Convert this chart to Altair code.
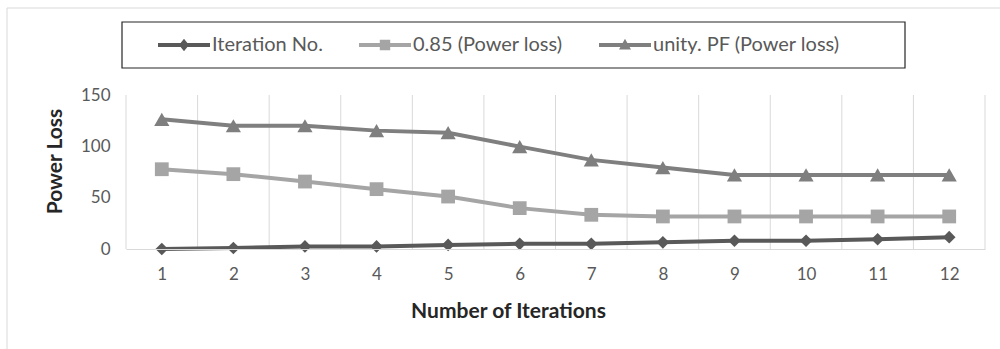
import altair as alt
import pandas as pd

iterations = list(range(1, 13))
iteration_no = [0, 1, 2.5, 2.5, 4, 5, 5, 6.5, 8, 8, 9.5, 11.5]
loss_085 = [77.7, 72.9, 65.7, 58.3, 51.1, 39.8, 33.3, 31.7, 31.7, 31.7, 31.7, 31.7]
loss_unity = [126.3, 120.1, 120.0, 115.3, 113.3, 99.7, 86.8, 79.3, 72.2, 72.2, 72.2, 72.2]

series_names = ["Iteration No.", "0.85 (Power loss)", "unity. PF (Power loss)"]
series_values = [iteration_no, loss_085, loss_unity]
series_colors = ["#595959", "#A5A5A5", "#7F7F7F"]
marker_shapes = ["diamond", "square", "triangle-up"]
marker_sizes = [160, 190, 230]
legend_shapes = [
    "M-1,-0.08H1V0.08H-1Z M0,-0.24L0.19,0L0,0.24L-0.19,0Z",
    "M-1,-0.08H1V0.08H-1Z M-0.2,-0.2H0.2V0.2H-0.2Z",
    "M-1,-0.08H1V0.08H-1Z M0,-0.24L0.23,0.17H-0.23Z",
]
grid_bounds = [i + 0.5 for i in range(0, 13)]

rows = []
for name, vals in zip(series_names, series_values):
    for it, v in zip(iterations, vals):
        rows.append({"iter": it, "value": v, "series": name})
df = pd.DataFrame(rows)
grid_df = pd.DataFrame({"b": grid_bounds})

FONT = "Lato"

xscale = alt.Scale(domain=[0.5, 12.5], nice=False, zero=False)
yscale = alt.Scale(domain=[0, 150], nice=False)
cscale = alt.Scale(domain=series_names, range=series_colors)

x_enc = alt.X(
    "iter:Q",
    scale=xscale,
    axis=alt.Axis(
        values=iterations, format="d", grid=False, ticks=False, domain=True,
        domainColor="#d9d9d9", domainWidth=1, zindex=1,
        labelFont=FONT, labelFontSize=17, labelColor="#595959", labelPadding=17,
        title="Number of Iterations", titleFont=FONT, titleFontSize=21,
        titleFontWeight="bold", titleColor="#262626", titleX=382, titleY=62,
        titleAlign="center", titleBaseline="middle",
    ),
)
y_enc = alt.Y(
    "value:Q",
    scale=yscale,
    axis=alt.Axis(
        values=[0, 50, 100, 150], grid=False, ticks=False, domain=False, zindex=1,
        labelFont=FONT, labelFontSize=17, labelColor="#595959", labelPadding=16,
        title="Power Loss", titleFont=FONT, titleFontSize=21, titleFontWeight="bold",
        titleColor="#262626", titleX=-71, titleY=66, titleAngle=270,
        titleAlign="center", titleBaseline="middle",
    ),
)

frame = alt.Chart(grid_df).mark_rect(fillOpacity=0, stroke="#d9d9d9", strokeWidth=1).encode(
    x=alt.value(-119), x2=alt.value(900), y=alt.value(-87), y2=alt.value(300)
).transform_filter("datum.b == 0.5")

legend_box = alt.Chart(grid_df).mark_rect(fillOpacity=0, stroke="#262626", strokeWidth=1.2).encode(
    x=alt.value(-4), x2=alt.value(779), y=alt.value(-73), y2=alt.value(-27)
).transform_filter("datum.b == 0.5")

grid = alt.Chart(grid_df).mark_rule(color="#d9d9d9", strokeWidth=1).encode(
    x=alt.X("b:Q", scale=xscale),
    y=alt.value(0),
    y2=alt.value(154),
)

series_layers = []
for name, col in zip(series_names, series_colors):
    series_layers.append(
        alt.Chart(df).transform_filter(alt.datum.series == name)
        .mark_line(strokeWidth=4, color=col)
        .encode(x=x_enc, y=y_enc)
    )
for name, col, shp, sz in zip(series_names, series_colors, marker_shapes, marker_sizes):
    series_layers.append(
        alt.Chart(df).transform_filter(alt.datum.series == name)
        .mark_point(shape=shp, filled=True, size=sz, opacity=1, color=col)
        .encode(x=x_enc, y=y_enc)
    )

leg = alt.Legend(
    orient="none", legendX=32, legendY=-76, direction="horizontal", columns=3,
    symbolSize=2704, symbolStrokeWidth=0, symbolOpacity=1,
    labelFont=FONT, labelFontSize=20, labelColor="#595959", labelOffset=2,
    columnPadding=36, title=None, zindex=2, labelLimit=400,
)

legend_layer = alt.Chart(df).mark_point(filled=True, opacity=0).encode(
    x=x_enc, y=y_enc,
    color=alt.Color("series:N", scale=cscale, title=None, legend=leg),
    shape=alt.Shape("series:N", scale=alt.Scale(domain=series_names, range=legend_shapes),
                    title=None, legend=leg),
)

chart = alt.layer(frame, legend_box, grid, *series_layers, legend_layer).properties(
    width=859, height=154,
    autosize=alt.AutoSizeParams(type="none"),
    padding={"left": 126, "top": 95, "right": 15, "bottom": 100},
    background="white",
).configure_view(stroke=None)

chart.save("out.html", embed_options={"renderer": "svg", "actions": False})
